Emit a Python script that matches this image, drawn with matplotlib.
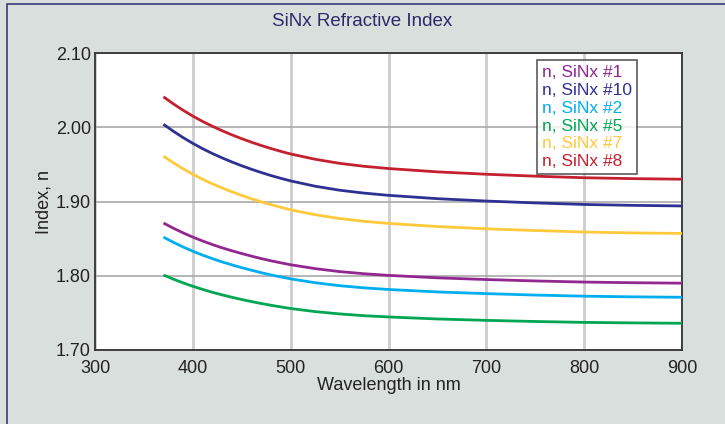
import matplotlib
matplotlib.use("Agg")
import matplotlib.pyplot as plt
from matplotlib.patches import Rectangle

plt.rcParams['font.family'] = ['Liberation Sans', 'DejaVu Sans']

# wavelength samples (nm)
wavelength = [370, 380, 390, 400, 410, 420, 430, 440, 450, 460, 470, 480, 490, 500,
              525, 550, 575, 600, 650, 700, 750, 800, 850, 900]

n_sinx_1 = [1.8710, 1.8641, 1.8578, 1.8520, 1.8468, 1.8420, 1.8376, 1.8336, 1.8299, 1.8264,
            1.8231, 1.8201, 1.8174, 1.8148, 1.8096, 1.8056, 1.8027, 1.8005, 1.7972, 1.7949,
            1.7930, 1.7915, 1.7906, 1.7900]
n_sinx_10 = [2.0040, 1.9947, 1.9861, 1.9783, 1.9711, 1.9646, 1.9587, 1.9532, 1.9481, 1.9434,
             1.9390, 1.9349, 1.9312, 1.9277, 1.9206, 1.9152, 1.9113, 1.9083, 1.9038, 1.9006,
             1.8981, 1.8960, 1.8948, 1.8940]
n_sinx_2 = [1.8520, 1.8451, 1.8388, 1.8330, 1.8278, 1.8230, 1.8186, 1.8146, 1.8109, 1.8074,
            1.8041, 1.8011, 1.7984, 1.7958, 1.7906, 1.7866, 1.7837, 1.7815, 1.7782, 1.7759,
            1.7740, 1.7725, 1.7716, 1.7710]
n_sinx_5 = [1.8010, 1.7955, 1.7904, 1.7858, 1.7816, 1.7777, 1.7742, 1.7710, 1.7680, 1.7652,
            1.7626, 1.7602, 1.7580, 1.7559, 1.7517, 1.7486, 1.7462, 1.7445, 1.7418, 1.7399,
            1.7384, 1.7372, 1.7365, 1.7360]
n_sinx_7 = [1.9610, 1.9522, 1.9441, 1.9367, 1.9299, 1.9238, 1.9182, 1.9130, 1.9082, 1.9037,
            1.8995, 1.8957, 1.8922, 1.8888, 1.8822, 1.8771, 1.8733, 1.8705, 1.8663, 1.8632,
            1.8609, 1.8589, 1.8577, 1.8570]
n_sinx_8 = [2.0410, 2.0316, 2.0229, 2.0150, 2.0078, 2.0013, 1.9953, 1.9897, 1.9846, 1.9798,
            1.9754, 1.9713, 1.9675, 1.9640, 1.9569, 1.9514, 1.9474, 1.9444, 1.9399, 1.9367,
            1.9341, 1.9320, 1.9308, 1.9300]

labels = ['n, SiNx #1', 'n, SiNx #10', 'n, SiNx #2', 'n, SiNx #5', 'n, SiNx #7', 'n, SiNx #8']
series = [n_sinx_1, n_sinx_10, n_sinx_2, n_sinx_5, n_sinx_7, n_sinx_8]
colors = ['#92278f', '#2e3192', '#00aeef', '#00a651', '#ffc93c', '#c4202f']

x_ticks = [300, 400, 500, 600, 700, 800, 900]
y_ticks = [1.70, 1.80, 1.90, 2.00, 2.10]


def show():
    fig = plt.figure(figsize=(7.25, 4.24), dpi=100)
    fig.patch.set_facecolor('#d9dfdc')
    # outer frame (only left and top edges fall inside the picture)
    fig.patches.append(Rectangle((7 / 725, -0.05), 1.2, 1 - 4 / 424 + 0.05,
                                 transform=fig.transFigure, fill=False,
                                 edgecolor='#3a3a7a', linewidth=1.2))

    ax = fig.add_axes([95 / 725, 1 - 350 / 424, (682 - 95) / 725, (350 - 53) / 424])
    ax.set_facecolor('white')

    for ys, c, lab in zip(series, colors, labels):
        ax.plot(wavelength, ys, color=c, lw=2.0, label=lab, zorder=3,
                solid_capstyle='butt', solid_joinstyle='round')

    ax.set_xlim(300, 900)
    ax.set_ylim(1.70, 2.10)
    ax.set_xticks(x_ticks)
    ax.set_yticks(y_ticks)
    ax.set_yticklabels([f'{v:.2f}' for v in y_ticks])
    ax.tick_params(length=0, labelsize=13, colors='#222222')
    ax.tick_params(axis='y', pad=3)
    ax.tick_params(axis='x', pad=7)

    ax.xaxis.grid(True, color='#cdcdcd', lw=2.0)
    ax.yaxis.grid(True, color='#a9a9a9', lw=1.2)
    ax.set_axisbelow(True)
    for s in ax.spines.values():
        s.set_color('#333333')
        s.set_linewidth(1.3)

    ax.set_xlabel('Wavelength in nm', fontsize=13, color='#222222', labelpad=0)
    ax.set_ylabel('Index, n', fontsize=13, color='#222222', labelpad=2)

    fig.text(0.5, 1 - 22 / 424, 'SiNx Refractive Index', ha='center', va='center',
             fontsize=13.5, color='#2b2a6b')

    leg = ax.legend(loc='upper right', bbox_to_anchor=(637 / 725, 1 - 60 / 424),
                    bbox_transform=fig.transFigure, handlelength=0, handletextpad=0,
                    fontsize=12.5, frameon=True, fancybox=False, borderpad=0.3,
                    labelspacing=0.15, borderaxespad=0)
    leg.get_frame().set_edgecolor('#333333')
    leg.get_frame().set_linewidth(1.2)
    for t, c in zip(leg.get_texts(), colors):
        t.set_color(c)
    for h in leg.legend_handles:
        h.set_visible(False)

    fig.savefig('out.png', dpi=100, facecolor=fig.get_facecolor())


if __name__ == "__main__":
    show()
